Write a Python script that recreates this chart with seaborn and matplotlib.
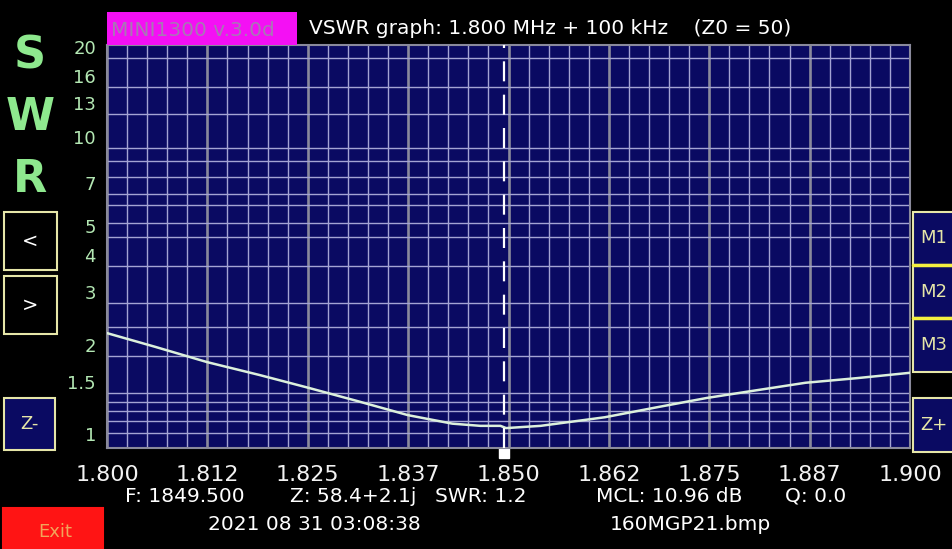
import matplotlib
matplotlib.use("Agg")
import numpy as np
import pandas as pd
import matplotlib.pyplot as plt
import seaborn as sns
from matplotlib.patches import Rectangle

# -------------------------
# DATA
# -------------------------
freq_mhz = [1.800, 1.806, 1.8125, 1.819, 1.825, 1.831, 1.8375, 1.843, 1.8465,
            1.849, 1.8497, 1.854, 1.862, 1.8685, 1.8747, 1.881, 1.887, 1.8935, 1.900]
swr = [2.38, 2.14, 1.90, 1.72, 1.56, 1.41, 1.26, 1.18, 1.16,
       1.16, 1.14, 1.16, 1.24, 1.34, 1.44, 1.53, 1.62, 1.68, 1.75]

x_ticks = [1.8, 1.8125, 1.825, 1.8375, 1.85, 1.8625, 1.875, 1.8875, 1.9]
x_labels = ["1.800", "1.812", "1.825", "1.837", "1.850", "1.862", "1.875", "1.887", "1.900"]
y_ticks = [1, 1.5, 2, 3, 4, 5, 7, 10, 13, 16, 20]
y_labels = ["1", "1.5", "2", "3", "4", "5", "7", "10", "13", "16", "20"]
y_grid = [1.1, 1.2, 1.3, 1.4, 1.5, 2, 2.5, 3, 4, 5, 5.6, 6.4, 7, 8, 9, 10, 13, 16, 20]
marker_f = 1.8495

title_box = "MINI1300 v.3.0d"
title = "VSWR graph: 1.800 MHz + 100 kHz    (Z0 = 50)"
info = ["F: 1849.500", "Z: 58.4+2.1j", "SWR: 1.2", "MCL: 10.96 dB", "Q: 0.0"]
stamp = "2021 08 31 03:08:38"
fname = "160MGP21.bmp"

# -------------------------
# STYLE
# -------------------------
NAVY = "#0a0a62"
GRID = "#a4a4d4"
MAJ = "#8a8a9c"
KHAKI = "#e6e6a8"
W, H = 952, 549

sns.set_theme(style="dark", rc={"axes.facecolor": NAVY, "figure.facecolor": "black",
                                "savefig.facecolor": "black"})
plt.rcParams["font.family"] = ["DejaVu Sans"]

def fx(x):
    return x / W

def fy(y):
    return 1 - y / H

fig = plt.figure(figsize=(W / 100, H / 100), dpi=100)
ax = fig.add_axes([fx(107), fy(448), 803 / W, 403 / H])

df = pd.DataFrame({"f": freq_mhz, "swr": swr})
sns.lineplot(data=df, x="f", y="swr", ax=ax, color="#dcf0dc", lw=1.8, zorder=5)

ax.set_yscale("log")
ax.set_xlim(1.8, 1.9)
ax.set_ylim(0.977, 22.2)

ax.set_xticks(x_ticks, labels=x_labels)
ax.set_xticks(np.arange(1.8, 1.9001, 0.0025), minor=True)
ax.set_yticks(y_ticks, labels=y_labels, va="bottom")
ax.yaxis.set_minor_locator(plt.NullLocator())

ax.grid(False)
ax.grid(which="minor", axis="x", color=GRID, lw=1.0, zorder=1)
ax.grid(which="major", axis="x", color=MAJ, lw=1.9, zorder=2)
for v in y_grid:
    ax.axhline(v, color=GRID, lw=1.0, zorder=1)
ax.set_axisbelow(True)

ax.tick_params(axis="x", which="major", length=0, pad=12, labelsize=16, colors="#f2f2f2")
ax.tick_params(axis="y", which="major", length=0, pad=8, labelsize=13, colors="#b4e8b4")
ax.tick_params(which="minor", length=0)
ax.set_xlabel("")
ax.set_ylabel("")
for s in ax.spines.values():
    s.set_color(MAJ)
    s.set_linewidth(1.5)

# marker line + marker pip
ax.axvline(marker_f, color="white", lw=1.6, dashes=(9, 6), zorder=6)
ax.plot([marker_f], [-0.012], marker="s", ms=7, color="white", mec="white",
        transform=ax.get_xaxis_transform(), clip_on=False)

# title bar
fig.add_artist(Rectangle((fx(107), fy(45)), 190 / W, 33 / H, transform=fig.transFigure,
                         facecolor="#f410f4", edgecolor="none"))
fig.text(fx(111), fy(30), title_box, color="#a878b4", fontsize=14.5, va="center")
fig.text(fx(309), fy(29), title, color="white", fontsize=14.5, va="center")

# big SWR letters
for ch, y in zip("SWR", [56, 117, 180]):
    fig.text(fx(30), fy(y), ch, color="#8ee88e", fontsize=32, weight="bold",
             ha="center", va="center")

# side buttons
def button(x0, y0, x1, y1, face="black", edge=KHAKI, lw=1.5):
    fig.add_artist(Rectangle((fx(x0), fy(y1)), (x1 - x0) / W, (y1 - y0) / H,
                             transform=fig.transFigure, facecolor=face,
                             edgecolor=edge, lw=lw))

button(4, 212, 57, 270)
button(4, 276, 57, 334)
button(4, 398, 55, 450, face=NAVY)
button(913, 212, 970, 265, face=NAVY)
button(913, 265, 970, 318, face=NAVY)
button(913, 318, 970, 372, face=NAVY)
button(913, 398, 970, 452, face=NAVY)
button(3, 508, 103, 552, face="#ff1414", edge="#ff1414")
fig.add_artist(plt.Line2D([fx(913), 1], [fy(265)] * 2, color="#f4f040", lw=2.5))
fig.add_artist(plt.Line2D([fx(913), 1], [fy(318)] * 2, color="#f4f040", lw=2.5))

fig.text(fx(30), fy(241), "<", color="white", fontsize=14, ha="center", va="center")
fig.text(fx(30), fy(305), ">", color="white", fontsize=14, ha="center", va="center")
fig.text(fx(29), fy(424), "Z-", color=KHAKI, fontsize=13, ha="center", va="center")
for t, y in zip(["M1", "M2", "M3", "Z+"], [238, 292, 345, 425]):
    fig.text(fx(920), fy(y), t, color=KHAKI, fontsize=13, va="center")
fig.text(fx(55), fy(532), "Exit", color="#f2a45a", fontsize=13, ha="center", va="center")

# readout lines
for t, x in zip(info, [125, 290, 435, 596, 785]):
    fig.text(fx(x), fy(496), t, color="white", fontsize=14.5, va="center")
fig.text(fx(208), fy(525), stamp, color="white", fontsize=14.5, va="center")
fig.text(fx(610), fy(525), fname, color="white", fontsize=14.5, va="center")

fig.savefig("out.png", dpi=100, facecolor="black")
